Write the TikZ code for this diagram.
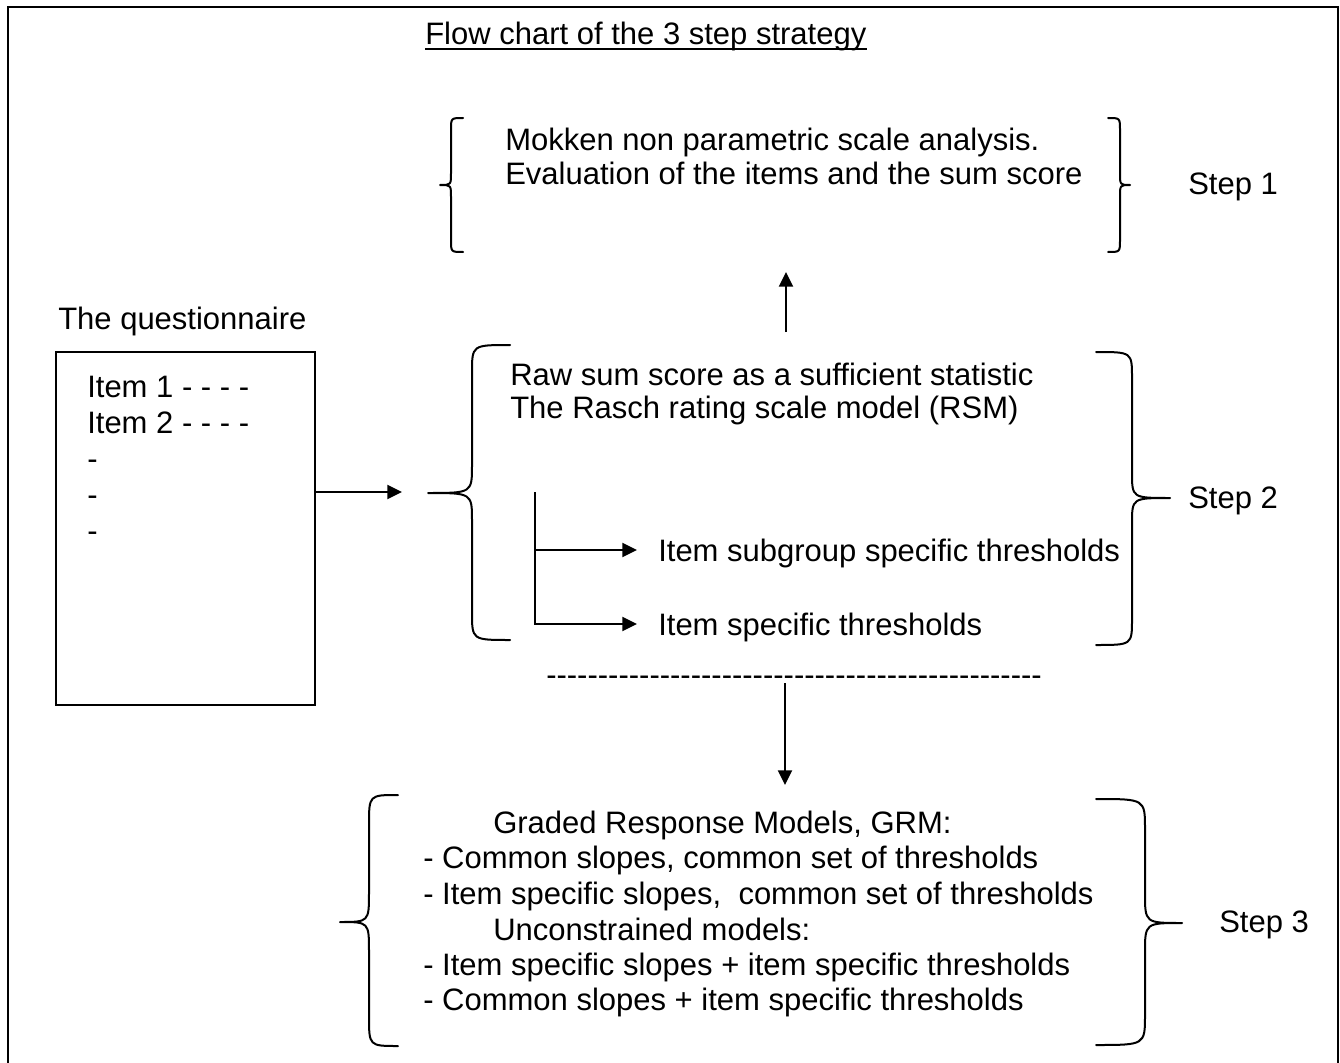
\documentclass[tikz,border=0pt]{standalone}
\usepackage{fontspec}
\setmainfont{Liberation Sans}
\usetikzlibrary{arrows.meta,calc}
\tikzset{
  txt/.style={anchor=base west, inner sep=0pt, font=\fontsize{23.25pt}{27pt}\selectfont},
  ln/.style={line width=1.5pt},
  arr/.style={line width=1.5pt, -{Triangle[length=11pt,width=10.5pt]}},
  bracestyle/.style={line width=1.5pt, line join=round, line cap=round}
}
% hx vx tx ytop ymid ybot r
\newcommand\bracepath[7]{%
  \draw[bracestyle] (#1,#4) .. controls (#2,#4) .. (#2,#4+#7) -- (#2,#5-#7)
    .. controls (#2,#5) .. (#3,#5) .. controls (#2,#5) .. (#2,#5+#7)
    -- (#2,#6-#7) .. controls (#2,#6) .. (#1,#6);}
\newcommand\hyrow{\foreach \k in {1,...,48}{-\kern0pt}}
\begin{document}
\begin{tikzpicture}[x=0.75pt,y=-0.75pt]
\useasboundingbox (0,0) rectangle (1340,1063);
\clip (0,0) rectangle (1340,1063);
\fill[white] (0,0) rectangle (1340,1063);
% frame
\draw[ln] (8,7) rectangle (1338,1090);
% title
\node[txt] (title) at (425,45) {Flow chart of the 3 step strategy};
\draw[ln] ($(title.base west)+(0,4)$) -- ($(title.base east)+(0,4)$);
% step 1
\node[txt] (m1) at (505,151) {Mokken non parametric scale analysis.};
\node[txt] (m2) at (505,185) {Evaluation of the items and the sum score};
\node[txt] (s1) at (1188,195) {Step 1};
\bracepath{463}{451}{440}{118}{185}{252}{12}
\bracepath{1108}{1120}{1130}{118}{185}{252}{12}
% questionnaire
\node[txt] (q) at (58,329) {The questionnaire};
\node[draw, line width=1.5pt, inner sep=0pt, minimum width=194.25pt, minimum height=264.75pt, anchor=north west] (qbox) at (55,351) {};
\node[txt] (i1) at (87,397) {Item 1 - - - -};
\node[txt] (i2) at (87,433) {Item 2 - - - -};
\node[txt] (d1) at (87,469) {-};
\node[txt] (d2) at (87,505) {-};
\node[txt] (d3) at (87,541) {-};
% step 2
\node[txt] (r1) at (510,385) {Raw sum score as a sufficient statistic};
\node[txt] (r2) at (510,418) {The Rasch rating scale model (RSM)};
\node[txt] (g1) at (658,561) {Item subgroup specific thresholds};
\node[txt] (g2) at (658,635) {Item specific thresholds};
\node[txt] (s2) at (1188,508) {Step 2};
\bracepath{510}{472}{428}{345}{493}{640}{28}
\bracepath{1096}{1132}{1170}{352}{498}{645}{26}
% separator
\node[txt] (sep) at (546,685) {\hyrow};
% step 3
\node[txt] (c1) at (493,833) {Graded Response Models, GRM:};
\node[txt] (c2) at (423,868) {- Common slopes, common set of thresholds};
\node[txt] (c3) at (423,904) {- Item specific slopes,\ \ common set of thresholds};
\node[txt] (c4) at (493,940) {Unconstrained models:};
\node[txt] (c5) at (423,975) {- Item specific slopes + item specific thresholds};
\node[txt] (c6) at (423,1010) {- Common slopes + item specific thresholds};
\node[txt] (s3) at (1219,932) {Step 3};
\bracepath{398}{369}{340}{795}{922}{1046}{30}
\bracepath{1096}{1145}{1182}{799}{923}{1045}{30}
% arrows
\coordinate (qa) at (402,492);
\draw[arr] (qbox.east |- qa) -- (qa);
\coordinate (ua) at (786,332);
\coordinate (ub) at (786,272);
\draw[arr] (ua) -- (ub);
\coordinate (da) at (785,683);
\coordinate (db) at (785,785);
\draw[arr] (da) -- (db);
\coordinate (vt) at (535,492);
\coordinate (vb) at (535,624);
\coordinate (t1) at (637,550);
\coordinate (t2) at (637,624);
\draw[arr] (vt |- t1) -- (t1);
\draw[arr] (vt) -- (vb) -- (t2);
\end{tikzpicture}
\end{document}
